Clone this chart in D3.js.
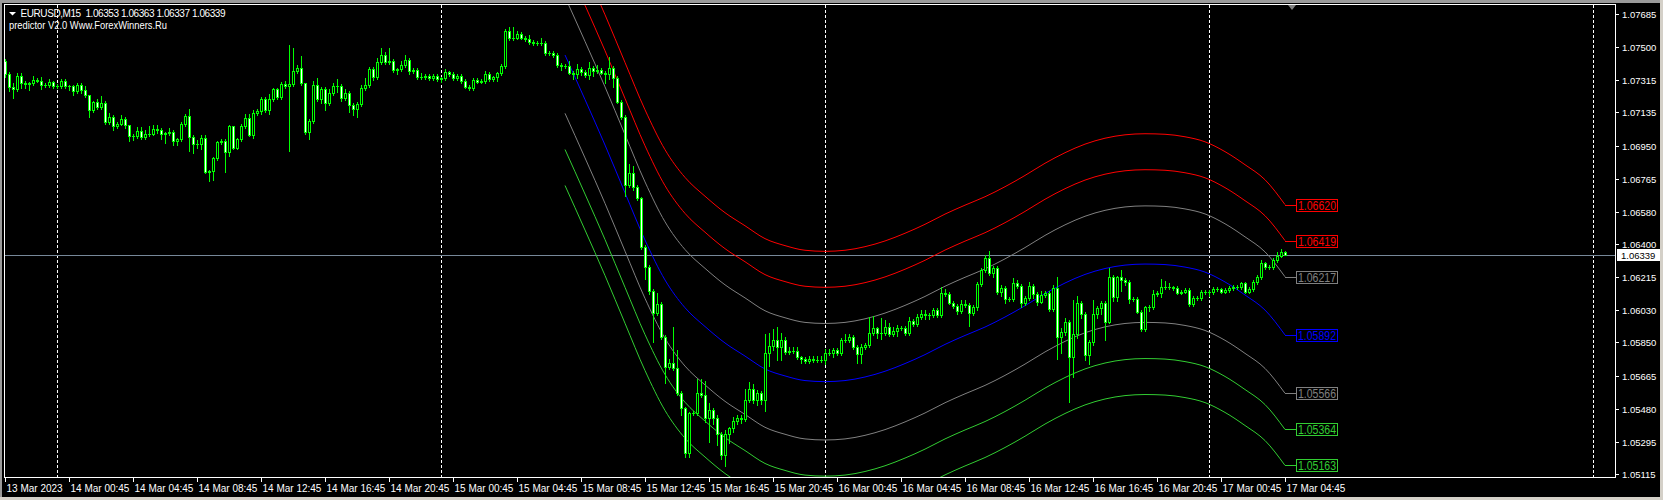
<!DOCTYPE html>
<html><head><meta charset="utf-8">
<script src="https://cdn.jsdelivr.net/npm/d3@7"></script>
<style>html,body{margin:0;padding:0;background:#000;overflow:hidden}</style>
</head><body>
<svg id="chart" width="1663" height="500" xmlns="http://www.w3.org/2000/svg"></svg>
<script>
// ---------------- DATA ----------------
const symbolTitle = "EURUSD,M15";
const indicatorTitle = "predictor V2.0 Www.ForexWinners.Ru";
const firstOpen = 1.07422;
const closes = [
1.07351,1.07277,1.07265,1.07337,1.07301,1.07293,1.07297,1.07317,1.07313,1.07287,
1.07286,1.07303,1.07283,1.07282,1.07313,1.07281,1.07280,1.07255,1.07291,1.07261,
1.07231,1.07147,1.07191,1.07167,1.07189,1.07081,1.07111,1.07057,1.07073,1.07101,
1.07067,1.07003,1.07001,1.07033,1.06997,1.07015,1.07017,1.07043,1.07039,1.07017,
1.07018,1.07027,1.06973,1.06985,1.07071,1.07117,1.06997,1.06958,1.06961,1.06991,
1.06804,1.06806,1.06878,1.06968,1.06974,1.06912,1.07057,1.06938,1.06984,1.07058,
1.07105,1.07011,1.07131,1.07145,1.07210,1.07148,1.07210,1.07264,1.07219,1.07293,
1.07282,1.07292,1.07366,1.07381,1.07301,1.07027,1.07087,1.07288,1.07210,1.07266,
1.07186,1.07245,1.07282,1.07283,1.07217,1.07245,1.07176,1.07152,1.07182,1.07269,
1.07288,1.07377,1.07334,1.07418,1.07455,1.07418,1.07424,1.07372,1.07375,1.07400,
1.07428,1.07368,1.07372,1.07334,1.07331,1.07340,1.07325,1.07338,1.07323,1.07325,
1.07359,1.07349,1.07329,1.07338,1.07312,1.07279,1.07273,1.07316,1.07307,1.07310,
1.07349,1.07321,1.07331,1.07353,1.07394,1.07590,1.07549,1.07553,1.07572,1.07553,
1.07545,1.07527,1.07523,1.07521,1.07522,1.07465,1.07466,1.07456,1.07400,1.07394,
1.07395,1.07357,1.07350,1.07378,1.07363,1.07344,1.07385,1.07367,1.07372,1.07357,
1.07350,1.07382,1.07326,1.07195,1.07111,1.06730,1.06795,1.06720,1.06655,1.06382,
1.06273,1.06139,1.06013,1.06065,1.05879,1.05714,1.05737,1.05706,1.05566,1.05482,
1.05231,1.05454,1.05456,1.05566,1.05556,1.05426,1.05473,1.05426,1.05338,1.05221,
1.05339,1.05370,1.05413,1.05426,1.05422,1.05528,1.05588,1.05529,1.05566,1.05527,
1.05789,1.05830,1.05864,1.05823,1.05863,1.05798,1.05802,1.05804,1.05767,1.05756,
1.05746,1.05755,1.05752,1.05751,1.05752,1.05793,1.05789,1.05808,1.05790,1.05864,
1.05865,1.05879,1.05823,1.05785,1.05823,1.05836,1.05901,1.05929,1.05904,1.05901,
1.05938,1.05897,1.05916,1.05929,1.05931,1.05904,1.05971,1.05953,1.05990,1.06009,
1.06003,1.06004,1.06031,1.06003,1.06128,1.06121,1.06072,1.06054,1.06027,1.06065,
1.06059,1.06013,1.06050,1.06175,1.06255,1.06320,1.06236,1.06268,1.06130,1.06153,
1.06091,1.06093,1.06180,1.06165,1.06069,1.06097,1.06165,1.06121,1.06078,1.06115,
1.06125,1.06037,1.06153,1.05879,1.05910,1.05966,1.05767,1.05896,1.06072,1.06009,
1.05780,1.05854,1.06009,1.06041,1.06072,1.05966,1.06217,1.06102,1.06214,1.06199,
1.06189,1.06091,1.06093,1.06022,1.05923,1.06046,1.06048,1.06121,1.06125,1.06162,
1.06161,1.06158,1.06153,1.06128,1.06134,1.06143,1.06065,1.06097,1.06096,1.06134,
1.06130,1.06131,1.06147,1.06146,1.06134,1.06143,1.06153,1.06162,1.06158,1.06180,
1.06134,1.06147,1.06189,1.06217,1.06292,1.06270,1.06269,1.06311,1.06335,1.06353,
1.06339];
// wick lengths above / below the body, in pips (0.0001)
const upperWickPips = [
1,1,2,2,2,1,1,2,1,2, 1,2,1,1,1,1,1,1,1,1, 2,0,1,2,4,1,2,1,1,2, 1,0,1,2,2,2,4,2,2,1,
1,2,1,1,1,1,4,1,2,2, 2,1,1,1,1,1,1,0,1,1, 2,2,2,1,1,1,3,1,1,1, 2,22,13,2,7,0,1,2,4,1,
1,2,2,4,1,2,1,1,1,2, 4,1,1,2,4,2,7,1,1,2, 3,1,1,1,2,1,1,1,1,1, 2,1,1,1,1,1,1,1,1,1,
2,1,1,1,1,1,2,6,2,1, 1,2,1,1,3,1,1,1,1,1, 1,3,1,3,1,1,3,1,3,1, 1,6,1,1,1,1,5,4,1,1,
1,1,1,6,1,1,2,20,10,1, 1,1,1,8,8,8,4,1,2,1, 2,1,2,2,2,6,4,3,2,1, 11,7,6,7,4,2,2,2,2,1,
1,2,2,2,2,2,2,1,1,1, 3,2,1,1,2,1,9,7,1,8, 4,2,2,2,1,1,2,1,2,2, 2,1,1,1,3,2,1,1,1,2,
2,1,1,1,1,2,4,1,1,2, 1,1,3,2,1,1,2,1,1,2, 1,1,2,6,2,2,1,19,4,1, 1,1,8,1,1,1,5,1,1,4,
1,1,1,1,1,1,1,2,1,4, 3,2,1,1,1,1,1,1,1,1, 1,1,1,1,1,1,1,1,1,1, 1,1,1,1,2,1,1,1,2,2,
1];
const lowerWickPips = [
2,2,5,1,3,2,3,1,1,2, 1,1,1,1,1,1,2,2,1,2, 1,4,1,1,1,1,1,2,1,1, 2,3,2,1,1,1,1,1,2,3,
5,1,2,2,1,1,8,5,2,3, 1,5,5,1,1,11,2,1,1,1, 1,1,2,1,2,1,2,1,1,1, 1,36,1,1,1,1,4,1,1,2,
4,1,1,3,2,1,4,3,4,1, 1,1,2,1,1,1,1,1,2,1, 1,2,1,1,1,1,1,1,1,2, 1,1,1,1,1,1,1,1,1,1,
1,1,1,2,1,1,1,1,1,1, 1,1,1,1,1,1,1,1,1,2, 1,1,3,2,2,1,2,3,1,1, 5,3,5,1,1,6,1,2,1,1,
7,2,16,1,1,9,1,1,1,4, 2,2,1,1,1,2,13,3,6,2, 6,5,2,2,2,1,1,2,3,2, 6,7,2,7,7,1,1,1,1,2,
1,1,1,1,1,2,1,2,1,1, 1,1,1,5,5,1,1,1,3,3, 1,1,1,3,1,1,1,1,1,1, 2,2,1,1,1,1,1,1,2,1,
1,7,1,2,1,1,1,2,1,2, 2,1,1,1,2,1,1,2,2,1, 1,1,1,12,9,2,25,11,2,2, 3,5,2,2,3,10,1,2,2,6,
2,2,1,1,1,1,2,1,1,2, 1,1,1,1,1,1,1,1,1,1, 1,2,1,1,1,1,1,1,1,1, 1,1,1,1,1,1,1,1,1,1,
0.2];
const timeTickBars = [0,16,32,48,64,80,96,112,128,144,160,176,192,208,224,240,256,272,288,304,320];
const timeTickLabels = ["13 Mar 2023","14 Mar 00:45","14 Mar 04:45","14 Mar 08:45","14 Mar 12:45",
  "14 Mar 16:45","14 Mar 20:45","15 Mar 00:45","15 Mar 04:45","15 Mar 08:45","15 Mar 12:45",
  "15 Mar 16:45","15 Mar 20:45","16 Mar 00:45","16 Mar 04:45","16 Mar 08:45","16 Mar 12:45",
  "16 Mar 16:45","16 Mar 20:45","17 Mar 00:45","17 Mar 04:45"];
const daySeparatorBars = [13,109,205,301,397];
const priceTicks = [1.07685,1.07500,1.07315,1.07135,1.06950,1.06765,1.06580,1.06400,
  1.06215,1.06030,1.05850,1.05665,1.05480,1.05295,1.05115];
const centerBars = [140,145,150,155,160,165,170,175,180,185,190,195,200,205,210,215,220,225,
  230,235,240,245,250,255,260,265,270,275,280,285,290,295,300,305,310,315,320];
const centerValues = [1.07456,1.07207,1.06953,1.06686,1.06422,1.06199,1.06044,1.05939,1.05847,
  1.05774,1.05702,1.05663,1.05637,1.05631,1.05637,1.05657,1.05689,1.05732,1.05782,1.05839,
  1.05889,1.05936,1.05992,1.06055,1.06123,1.06182,1.06230,1.06263,1.06282,1.06288,1.06285,
  1.06271,1.06243,1.06188,1.06115,1.06031,1.05892];
const bandOffsets = [0.00728,0.00527,0.00325,0,-0.00326,-0.00528,-0.00729];

// ---------------- STYLE / LAYOUT ----------------
const bandColors = ["#ff0000","#ff0000","#808080","#0000ff","#808080","#32cd32","#32cd32"];
const candleColor = "#00ff00";
const plot = {left:4, top:4, right:1615, bottom:477};
const font = "'Liberation Sans', Arial, sans-serif";

const svg = d3.select("#chart");
svg.append("rect").attr("width",1663).attr("height",500).attr("fill","#000");

const x = d3.scaleLinear().domain([0,320]).range([5,1285]);
const y = d3.scaleLinear().domain([1.05115,1.07685]).range([474,14]);

const defs = svg.append("defs");
defs.append("clipPath").attr("id","plotclip").append("rect")
  .attr("x",plot.left+1).attr("y",plot.top+1)
  .attr("width",plot.right-plot.left-1).attr("height",plot.bottom-plot.top-1);

// day separators
const gSep = svg.append("g").attr("shape-rendering","crispEdges");
daySeparatorBars.forEach(b=>{
  const xx = Math.round(x(b))+0.5;
  gSep.append("line").attr("x1",xx).attr("x2",xx).attr("y1",plot.top+1).attr("y2",plot.bottom)
    .attr("stroke","#fff").attr("stroke-width",1).attr("stroke-dasharray","3,2");
});

// current price line
const lastClose = closes[closes.length-1];
const yPrice = Math.round(y(lastClose))+0.5;
svg.append("line").attr("x1",plot.left).attr("x2",plot.right).attr("y1",yPrice).attr("y2",yPrice)
  .attr("stroke","#778899").attr("stroke-width",1).attr("shape-rendering","crispEdges");

// prediction bands
const gBands = svg.append("g").attr("clip-path","url(#plotclip)");
const line = d3.line().x(d=>x(d[0])).y(d=>y(d[1])).curve(d3.curveMonotoneX);
bandOffsets.forEach((off,k)=>{
  const pts = centerBars.map((b,i)=>[b, centerValues[i]+off]);
  gBands.append("path").attr("d",line(pts)).attr("fill","none")
    .attr("stroke",bandColors[k]).attr("stroke-width",1);
});

// candles
const gC = svg.append("g").attr("shape-rendering","crispEdges").attr("clip-path","url(#plotclip)");
closes.forEach((c,i)=>{
  const o = i===0 ? firstOpen : closes[i-1];
  const hi = Math.max(o,c) + upperWickPips[i]*0.0001;
  const lo = Math.min(o,c) - lowerWickPips[i]*0.0001;
  const cx = Math.round(x(i));
  const yH = Math.round(y(hi)), yL = Math.round(y(lo));
  gC.append("rect").attr("x",cx).attr("y",yH).attr("width",1).attr("height",Math.max(1,yL-yH+1))
    .attr("fill",candleColor);
  const yT = Math.round(y(Math.max(o,c))), yB = Math.round(y(Math.min(o,c)));
  const h = yB - yT + 1;
  gC.append("rect").attr("x",cx-1).attr("y",yT).attr("width",3).attr("height",Math.max(1,h))
    .attr("fill",candleColor);
  if (h > 2) {
    gC.append("rect").attr("x",cx).attr("y",yT+1).attr("width",1).attr("height",h-2)
      .attr("fill", c < o ? "#ffffff" : "#000000");
  }
});

// band end labels
const gLab = svg.append("g");
bandOffsets.forEach((off,k)=>{
  const v = centerValues[centerValues.length-1] + off;
  const yy = Math.round(y(v))+0.5;
  const x0 = x(centerBars[centerBars.length-1]);
  gLab.append("line").attr("x1",x0).attr("x2",1296).attr("y1",yy).attr("y2",yy)
    .attr("stroke",bandColors[k]).attr("shape-rendering","crispEdges");
  gLab.append("rect").attr("x",1296.5).attr("y",yy-6).attr("width",41).attr("height",12)
    .attr("fill","#000").attr("stroke",bandColors[k]).attr("shape-rendering","crispEdges");
  gLab.append("text").attr("x",1317).attr("y",yy+4.5).attr("text-anchor","middle")
    .attr("fill",bandColors[k]).attr("font-family",font).attr("font-size","12px")
    .attr("textLength",38).attr("lengthAdjust","spacingAndGlyphs")
    .text(v.toFixed(5));
});

// frame
svg.append("rect").attr("x",plot.left+0.5).attr("y",plot.top+0.5)
  .attr("width",plot.right-plot.left).attr("height",plot.bottom-plot.top)
  .attr("fill","none").attr("stroke","#fff").attr("shape-rendering","crispEdges");

// price axis
const gY = svg.append("g");
priceTicks.forEach(p=>{
  const yy = Math.round(y(p))+0.5;
  gY.append("line").attr("x1",plot.right+1).attr("x2",plot.right+4).attr("y1",yy).attr("y2",yy)
    .attr("stroke","#fff").attr("shape-rendering","crispEdges");
  gY.append("text").attr("x",plot.right+7).attr("y",yy+3.5).attr("fill","#fff")
    .attr("font-family",font).attr("font-size","9.5px").text(p.toFixed(5));
});
// current price box
gY.append("rect").attr("x",plot.right+2).attr("y",yPrice-6.5).attr("width",43).attr("height",12)
  .attr("fill","#fff");
gY.append("text").attr("x",plot.right+6).attr("y",yPrice+3.5).attr("fill","#000")
  .attr("font-family",font).attr("font-size","9.5px").text(lastClose.toFixed(5));

// time axis
const gX = svg.append("g");
timeTickBars.forEach((b,i)=>{
  const xx = Math.round(x(b))+0.5;
  gX.append("line").attr("x1",xx).attr("x2",xx).attr("y1",plot.bottom+1).attr("y2",plot.bottom+5)
    .attr("stroke","#fff").attr("shape-rendering","crispEdges");
  gX.append("text").attr("x",xx+1).attr("y",491.5).attr("fill","#fff")
    .attr("font-family",font).attr("font-size","10px").text(timeTickLabels[i]);
});

// chart shift marker
const xs = x(321.75);
svg.append("path").attr("d",`M${xs-4},${plot.top+1}L${xs+4},${plot.top+1}L${xs},${plot.top+6}Z`)
  .attr("fill","#808080");

// header
const lastOpen = closes[closes.length-2];
const lastHigh = Math.max(lastOpen,lastClose)+upperWickPips[320]*0.0001;
const lastLow = Math.min(lastOpen,lastClose)-lowerWickPips[320]*0.0001;
svg.append("path").attr("d","M9,12L16,12L12.5,15.5Z").attr("fill","#fff");
svg.append("text").attr("x",20.5).attr("y",16.5).attr("fill","#fff").attr("font-family",font)
  .attr("font-size","10px").attr("xml:space","preserve").style("white-space","pre")
  .attr("textLength",205).attr("lengthAdjust","spacing")
  .text(`${symbolTitle}  ${lastOpen.toFixed(5)} ${lastHigh.toFixed(5)} ${lastLow.toFixed(5)} ${lastClose.toFixed(5)}`);
svg.append("text").attr("x",9).attr("y",28.5).attr("fill","#fff").attr("font-family",font)
  .attr("font-size","10px").attr("textLength",158).attr("lengthAdjust","spacingAndGlyphs")
  .text(indicatorTitle);

// window edges
svg.append("rect").attr("x",0).attr("y",0).attr("width",1663).attr("height",3).attr("fill","#9a9a9a");
svg.append("rect").attr("x",0).attr("y",0).attr("width",2).attr("height",500).attr("fill","#9a9a9a");
svg.append("rect").attr("x",0).attr("y",497).attr("width",1663).attr("height",3).attr("fill","#d4d0c8");
svg.append("rect").attr("x",1660).attr("y",0).attr("width",3).attr("height",500).attr("fill","#d4d0c8");
</script>
</body></html>
